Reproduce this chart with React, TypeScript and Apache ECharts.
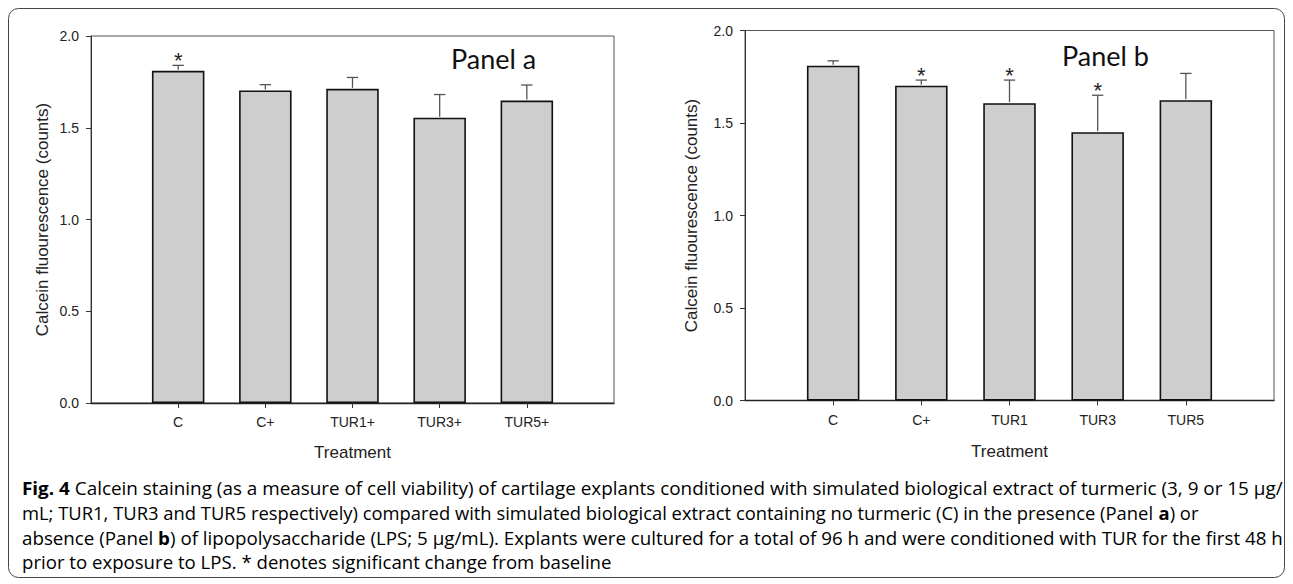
import React, { useEffect, useRef } from "react";
import * as echarts from "echarts";

// ---- data ----
const categoriesA = ["C", "C+", "TUR1+", "TUR3+", "TUR5+"];
const meansA = [1.81, 1.703, 1.712, 1.555, 1.648];
const errorsA = [0.03, 0.032, 0.062, 0.126, 0.085];
const significantA = [1, 0, 0, 0, 0];

const categoriesB = ["C", "C+", "TUR1", "TUR3", "TUR5"];
const meansB = [1.81, 1.702, 1.607, 1.45, 1.623];
const errorsB = [0.026, 0.03, 0.125, 0.2, 0.145];
const significantB = [0, 1, 1, 1, 0];

const yMin = 0;
const yMax = 2;
const yInterval = 0.5;

const panelTitles = ["Panel a", "Panel b"];
const axisNameY = "Calcein fluourescence (counts)";
const axisNameX = "Treatment";

const captionLines: { text: string; bold?: boolean }[][] = [
  [
    { text: "Fig. 4", bold: true },
    { text: " Calcein staining (as a measure of cell viability) of cartilage explants conditioned with simulated biological extract of turmeric (3, 9 or 15 µg/" },
  ],
  [
    { text: "mL; TUR1, TUR3 and TUR5 respectively) compared with simulated biological extract containing no turmeric (C) in the presence (Panel " },
    { text: "a", bold: true },
    { text: ") or" },
  ],
  [
    { text: "absence (Panel " },
    { text: "b", bold: true },
    { text: ") of lipopolysaccharide (LPS; 5 µg/mL). Explants were cultured for a total of 96 h and were conditioned with TUR for the first 48 h" },
  ],
  [{ text: "prior to exposure to LPS. * denotes significant change from baseline" }],
];
const captionWidths = [1261, 1176, 1261, 590];
const captionCenters = [488, 513, 538, 562];

const AXIS_FONT = "'Liberation Sans', Arial, sans-serif";
const CAP_FONT = "'Open Sans', sans-serif";
const CAP_SIZE = 18;

function measure(text: string, bold: boolean) {
  const c = document.createElement("canvas").getContext("2d")!;
  c.font = `${bold ? "bold " : ""}${CAP_SIZE}px "Open Sans"`;
  return c.measureText(text).width;
}

function buildPanel(
  gridIndex: number,
  cats: string[],
  means: number[],
  errs: number[],
  sig: number[],
  nameGapY: number,
  nameGapX: number
) {
  const xData = ["", ...cats, ""];
  const xAxis = {
    type: "category",
    gridIndex,
    data: xData,
    boundaryGap: false,
    axisLine: { lineStyle: { color: "#222", width: 1.3 } },
    axisTick: {
      show: true,
      length: 5,
      interval: (i: number) => i !== 0 && i !== xData.length - 1,
      lineStyle: { color: "#333", width: 1 },
    },
    axisLabel: {
      interval: 0,
      margin: 12,
      fontSize: 14,
      fontFamily: AXIS_FONT,
      color: "#222",
    },
    splitLine: { show: false },
    name: axisNameX,
    nameLocation: "middle",
    nameGap: nameGapX,
    nameTextStyle: { fontSize: 17, fontFamily: AXIS_FONT, color: "#222" },
  };
  const yAxis = {
    type: "value",
    gridIndex,
    min: yMin,
    max: yMax,
    interval: yInterval,
    axisLine: { show: true, lineStyle: { color: "#333", width: 1 } },
    axisTick: { show: true, length: 5, lineStyle: { color: "#333" } },
    axisLabel: {
      margin: 12,
      fontSize: 14,
      fontFamily: AXIS_FONT,
      color: "#222",
      formatter: (v: number) => v.toFixed(1),
    },
    splitLine: { show: false },
    name: axisNameY,
    nameLocation: "middle",
    nameGap: nameGapY,
    nameTextStyle: { fontSize: 17, fontFamily: AXIS_FONT, color: "#222" },
  };
  const bar = {
    type: "bar",
    xAxisIndex: gridIndex,
    yAxisIndex: gridIndex,
    data: ["-", ...means, "-"],
    barWidth: 52.5,
    itemStyle: { color: "#cecece", borderColor: "#111", borderWidth: 1.6 },
    z: 2,
  };
  const err = {
    type: "custom",
    xAxisIndex: gridIndex,
    yAxisIndex: gridIndex,
    z: 3,
    data: means.map((m, i) => [i + 1, m, m + errs[i], sig[i]]),
    renderItem: (_p: any, api: any) => {
      const base = api.coord([api.value(0), api.value(1)]);
      const top = api.coord([api.value(0), api.value(2)]);
      const children: any[] = [
        {
          type: "line",
          shape: { x1: base[0], y1: base[1] - 1, x2: top[0], y2: top[1] },
          style: { stroke: "#555", lineWidth: 1.3 },
        },
        {
          type: "line",
          shape: { x1: top[0] - 5.7, y1: top[1], x2: top[0] + 5.7, y2: top[1] },
          style: { stroke: "#555", lineWidth: 1.3 },
        },
      ];
      if (api.value(3)) {
        children.push({
          type: "text",
          x: top[0],
          y: top[1] - 5,
          style: {
            text: "*",
            fontSize: 22,
            fontFamily: AXIS_FONT,
            fill: "#222",
            align: "center",
            verticalAlign: "middle",
          },
        });
      }
      return { type: "group", children };
    },
  };
  return { xAxis, yAxis, series: [bar, err] };
}

export default function App() {
  const ref = useRef<HTMLDivElement>(null);
  useEffect(() => {
    if (!ref.current) return;
    const chart = echarts.init(ref.current, null, { renderer: "svg" });
    const pA = buildPanel(0, categoriesA, meansA, errorsA, significantA, 40, 41);
    const pB = buildPanel(1, categoriesB, meansB, errorsB, significantB, 45, 42);

    const captionGraphics = captionLines.map((segs, li) => {
      const natural = segs.reduce((s, g) => s + measure(g.text, !!g.bold), 0);
      const sx = natural > 0 ? captionWidths[li] / natural : 1;
      const text = segs.map((g) => `{${g.bold ? "b" : "r"}|${g.text}}`).join("");
      return {
        type: "text",
        x: 22,
        y: captionCenters[li],
        scaleX: sx,
        style: {
          text,
          align: "left",
          verticalAlign: "middle",
          rich: {
            r: { fontSize: CAP_SIZE, fontFamily: CAP_FONT, color: "#231f20" },
            b: { fontSize: CAP_SIZE, fontFamily: CAP_FONT, fontWeight: "bold", color: "#231f20" },
          },
        },
      };
    });

    chart.setOption({
      animation: false,
      backgroundColor: "#fff",
      grid: [
        { left: 91, top: 36, width: 523, height: 367, show: true, borderColor: "#555", borderWidth: 1, backgroundColor: "transparent" },
        { left: 745, top: 30.5, width: 529, height: 370, show: true, borderColor: "#555", borderWidth: 1, backgroundColor: "transparent" },
      ],
      xAxis: [pA.xAxis, pB.xAxis],
      yAxis: [pA.yAxis, pB.yAxis],
      series: [...pA.series, ...pB.series],
      graphic: [
        {
          type: "rect",
          shape: { x: 8.5, y: 8.5, width: 1276, height: 569, r: 10 },
          style: { fill: "none", stroke: "#444", lineWidth: 1 },
          silent: true,
        },
        {
          type: "text",
          x: 451,
          y: 58,
          style: { text: panelTitles[0], fontSize: 27, fontFamily: "Lato, sans-serif", fill: "#111", verticalAlign: "middle" },
        },
        {
          type: "text",
          x: 1062,
          y: 55,
          style: { text: panelTitles[1], fontSize: 27, fontFamily: "Lato, sans-serif", fill: "#111", verticalAlign: "middle" },
        },
        ...captionGraphics,
      ],
    });
    return () => chart.dispose();
  }, []);
  return (
    <div
      ref={ref}
      style={{ position: "absolute", left: 0, top: 0, width: 1293, height: 584, background: "#fff" }}
    />
  );
}
